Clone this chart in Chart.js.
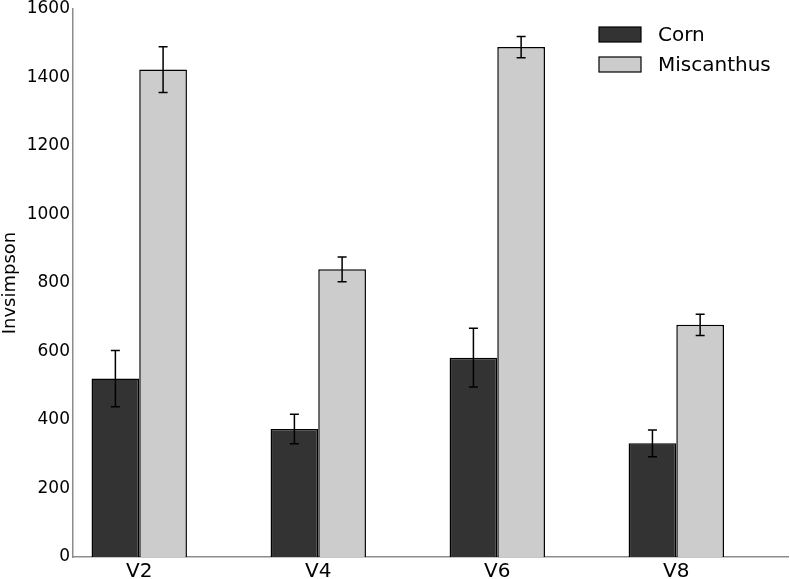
<!DOCTYPE html>
<html>
<head>
<meta charset="utf-8">
<script src="https://cdn.jsdelivr.net/npm/chart.js@4.4.1/dist/chart.umd.min.js"></script>
<style>
  html, body { margin: 0; padding: 0; background: #ffffff; }
  canvas { display: block; }
</style>
</head>
<body>
<canvas id="c" width="790" height="579"></canvas>
<script>
const categories = ['V2', 'V4', 'V6', 'V8'];
const seriesNames = ['Corn', 'Miscanthus'];
const cornValues = [521, 374, 582, 332];
const cornErrors = [82, 43, 86, 39];
const miscValues = [1423, 840, 1489, 678];
const miscErrors = [67, 36, 31, 31];
const yTicks = [0, 200, 400, 600, 800, 1000, 1200, 1400, 1600];

const FONT = "'DejaVu Sans', sans-serif";

function toPoints(vals) { return vals.map((v, i) => ({ x: i, y: v })); }

const errorBarPlugin = {
  id: 'errorBars',
  afterDatasetsDraw(chart) {
    const ctx = chart.ctx;
    const yScale = chart.scales.y;
    chart.data.datasets.forEach((ds, di) => {
      const meta = chart.getDatasetMeta(di);
      meta.data.forEach((bar, i) => {
        const v = ds.data[i].y;
        const e = ds.errors[i];
        const x = bar.x;
        const yTop = yScale.getPixelForValue(v + e);
        const yBot = yScale.getPixelForValue(v - e);
        ctx.save();
        ctx.strokeStyle = '#000000';
        ctx.lineWidth = 1.5;
        ctx.beginPath();
        ctx.moveTo(x, yTop); ctx.lineTo(x, yBot);
        ctx.moveTo(x - 4.5, yTop); ctx.lineTo(x + 4.5, yTop);
        ctx.moveTo(x - 4.5, yBot); ctx.lineTo(x + 4.5, yBot);
        ctx.stroke();
        ctx.restore();
      });
    });
  }
};

const legendPlugin = {
  id: 'customLegend',
  afterDraw(chart) {
    const ctx = chart.ctx;
    ctx.save();
    chart.data.datasets.forEach((ds, i) => {
      const bx = 599, by = 27 + i * 30, bw = 42, bh = 15;
      ctx.fillStyle = ds.backgroundColor;
      ctx.fillRect(bx, by, bw, bh);
      ctx.strokeStyle = '#000000';
      ctx.lineWidth = 1.2;
      ctx.strokeRect(bx, by, bw, bh);
      ctx.fillStyle = '#000000';
      ctx.font = '20px ' + FONT;
      ctx.textBaseline = 'middle';
      ctx.textAlign = 'left';
      ctx.fillText(ds.label, 658, by + bh / 2 + 1);
    });
    ctx.restore();
  }
};

new Chart(document.getElementById('c'), {
  type: 'bar',
  data: {
    datasets: [
      {
        label: seriesNames[0],
        data: toPoints(cornValues),
        errors: cornErrors,
        backgroundColor: '#333333',
        borderColor: '#000000',
        borderWidth: 1.5,
        borderSkipped: 'bottom'
      },
      {
        label: seriesNames[1],
        data: toPoints(miscValues),
        errors: miscErrors,
        backgroundColor: '#cccccc',
        borderColor: '#000000',
        borderWidth: 1.5,
        borderSkipped: 'bottom'
      }
    ]
  },
  options: {
    responsive: false,
    animation: false,
    devicePixelRatio: 1,
    categoryPercentage: 0.533,
    barPercentage: 1.0,
    layout: { padding: { top: 9, right: 2, left: 0, bottom: 0 } },
    plugins: { legend: { display: false }, tooltip: { enabled: false } },
    scales: {
      x: {
        type: 'linear',
        min: -0.37,
        max: 3.624,
        offset: false,
        grid: { display: false, drawTicks: false },
        border: { display: true, color: '#8c8c8c', width: 1.5 },
        afterBuildTicks(scale) {
          scale.ticks = categories.map((c, i) => ({ value: i }));
        },
        afterFit(scale) {
          scale.height = 22;
          scale.paddingLeft = 0; scale.paddingRight = 0;
          scale.paddingTop = 0; scale.paddingBottom = 0;
        },
        ticks: {
          color: '#000000',
          font: { family: FONT, size: 20, lineHeight: 1 },
          padding: 5,
          autoSkip: false,
          maxRotation: 0,
          callback(value) { return categories[value]; }
        }
      },
      y: {
        min: 0,
        max: 1600,
        grid: { display: false, drawTicks: false },
        border: { display: true, color: '#8c8c8c', width: 1.5 },
        afterBuildTicks(scale) {
          scale.ticks = yTicks.map(v => ({ value: v }));
        },
        afterFit(scale) {
          scale.width = 73;
          scale.paddingTop = 0; scale.paddingBottom = 0;
          scale.paddingLeft = 0; scale.paddingRight = 0;
        },
        ticks: {
          color: '#000000',
          font: { family: FONT, size: 17, lineHeight: 1 },
          padding: 3,
          callback(value) { return String(value); }
        },
        title: {
          display: true,
          text: 'Invsimpson',
          color: '#000000',
          font: { family: FONT, size: 18, lineHeight: 1 },
          padding: { top: 1, bottom: 0 }
        }
      }
    }
  },
  plugins: [errorBarPlugin, legendPlugin]
});
</script>
</body>
</html>
